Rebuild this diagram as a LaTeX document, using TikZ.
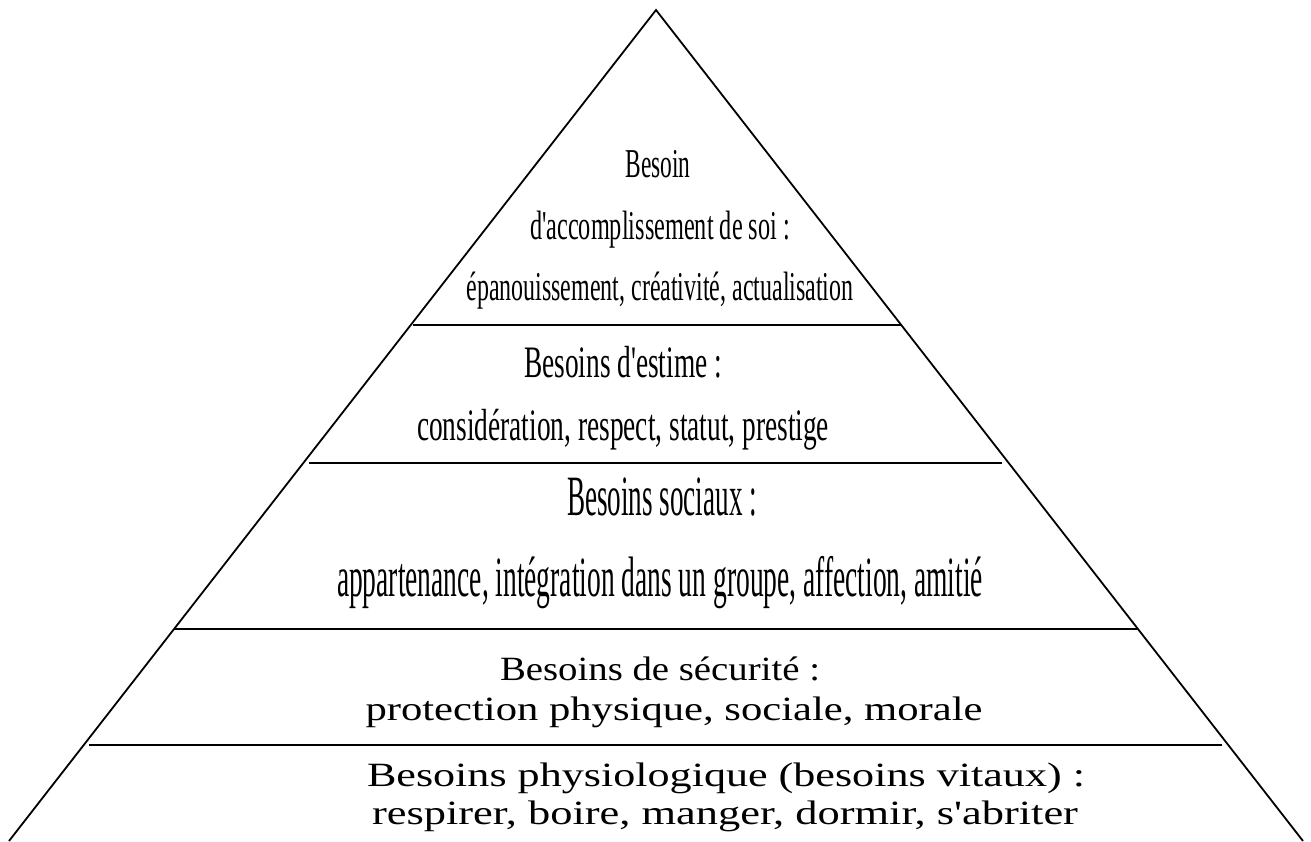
\documentclass[tikz,border=0pt]{standalone}
\usepackage{fontspec}
\usepackage{graphicx}
\setmainfont{Liberation Serif}
\newlength\natw
% #1 target width, #2 font size (pt), #3 text: set the text and squeeze/stretch it horizontally
\newcommand\fitline[3]{{\fontsize{#2pt}{#2pt}\selectfont
  \settowidth\natw{#3}\pgfmathsetmacro\sx{#1/\natw}\scalebox{\sx}[1]{#3}}}
\newcommand\ap{\textquotesingle}
\tikzset{
  edge/.style={line width=1.8pt, line join=miter},
  level/.style={line width=1.8pt},
  txt/.style={anchor=base, inner sep=0pt}
}
\begin{document}
\begin{tikzpicture}[x=1pt,y=-1pt]
\useasboundingbox (0,0) rectangle (1311,841);
% pyramid outline
\coordinate (apex) at (656,10);
\coordinate (bl) at (9,841);
\coordinate (br) at (1303,841);
\draw[edge] (bl) -- (apex) -- (br);
% level separators
\coordinate (l1a) at (413,325);  \coordinate (l1b) at (902,325);
\coordinate (l2a) at (309,463);  \coordinate (l2b) at (1002,463);
\coordinate (l3a) at (174,629);  \coordinate (l3b) at (1137,629);
\coordinate (l4a) at (89,745);   \coordinate (l4b) at (1222,745);
\draw[level] (l1a) -- (l1b);
\draw[level] (l2a) -- (l2b);
\draw[level] (l3a) -- (l3b);
\draw[level] (l4a) -- (l4b);
% top level
\node[txt] (t1a) at (658,177) {\fitline{65}{41}{Besoin}};
\node[txt] (t1b) at (660,239) {\fitline{260}{41}{d\ap accomplissement de soi :}};
\node[txt] (t1c) at (660,300) {\fitline{387}{41}{épanouissement, créativité, actualisation}};
% esteem
\node[txt] (t2a) at (623,377) {\fitline{198}{45}{Besoins d\ap estime :}};
\node[txt] (t2b) at (623,440) {\fitline{412}{45}{considération, respect, statut, prestige}};
% social
\node[txt] (t3a) at (662,515) {\fitline{190}{57}{Besoins sociaux :}};
\node[txt] (t3b) at (660,596) {\fitline{646}{57}{appartenance, intégration dans un groupe, affection, amitié}};
% safety
\node[txt] (t4a) at (660,680) {\fitline{320}{34}{Besoins de sécurité :}};
\node[txt] (t4b) at (674,720) {\fitline{617}{34}{protection physique, sociale, morale}};
% physiological
\node[txt] (t5a) at (726,786) {\fitline{718}{34}{Besoins physiologique (besoins vitaux) :}};
\node[txt] (t5b) at (725,824) {\fitline{706}{34}{respirer, boire, manger, dormir, s\ap abriter}};
\end{tikzpicture}
\end{document}
